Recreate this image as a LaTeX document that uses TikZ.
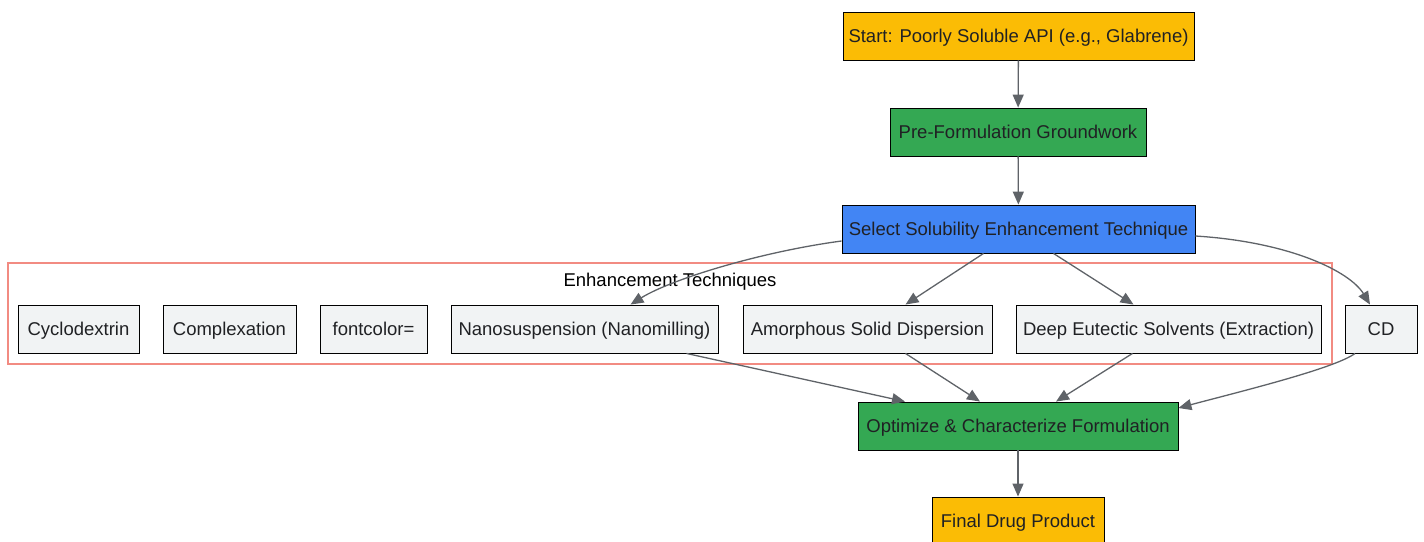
\documentclass[tikz,border=0pt]{standalone}
\usepackage{fontspec}
\setmainfont{Liberation Sans}
\usetikzlibrary{arrows.meta}
\definecolor{gyellow}{HTML}{FBBC05}
\definecolor{ggreen}{HTML}{34A853}
\definecolor{gblue}{HTML}{4285F4}
\definecolor{ggray}{HTML}{F1F3F4}
\definecolor{gred}{HTML}{F28B82}
\definecolor{gtext}{HTML}{202124}
\definecolor{gedge}{HTML}{5F6368}
\tikzset{
    txt/.style={font=\fontsize{18.5}{22}\selectfont, text height=13.5, text depth=0},
    box/.style={txt, draw=black, line width=0.9pt, minimum height=48, inner xsep=2, text=gtext},
    flow/.style={draw=gedge, line width=1.3pt, -{Triangle[length=13pt, width=11pt]}},
}
\begin{document}
\begin{tikzpicture}[x=1pt, y=-1pt]
    \useasboundingbox (0,0) rectangle (1424,541);
    \draw [gred, line width=1.2pt] (8,263) rectangle (1332,364);
    \node [txt] (clabel) at (670,280) {Enhancement Techniques};

    \node [box, fill=gyellow, minimum width=351] (start) at (1018.5,36) {Start: Poorly Soluble API (e.g., Glabrene)};
    \node [box, fill=ggreen, minimum width=256] (pre) at (1018,132) {Pre-Formulation Groundwork};
    \node [box, fill=gblue, minimum width=353] (sel) at (1018.5,229) {Select Solubility Enhancement Technique};

    \node [box, fill=ggray, minimum width=121] (cyclo) at (78.5,329) {Cyclodextrin};
    \node [box, fill=ggray, minimum width=133] (complex) at (229.5,329) {Complexation};
    \node [box, fill=ggray, minimum width=107] (fontc) at (373.5,329) {fontcolor=};
    \node [box, fill=ggray, minimum width=267] (nano) at (584.5,329) {Nanosuspension (Nanomilling)};
    \node [box, fill=ggray, minimum width=249] (amorph) at (867.5,329) {Amorphous Solid Dispersion};
    \node [box, fill=ggray, minimum width=305] (deep) at (1168.5,329) {Deep Eutectic Solvents (Extraction)};
    \node [box, fill=ggray, minimum width=72] (cd) at (1381,329) {CD};

    \node [box, fill=ggreen, minimum width=320] (opt) at (1018,426) {Optimize \& Characterize Formulation};
    \node [box, fill=gyellow, minimum width=172] (final) at (1018,521) {Final Drug Product};

    \draw [flow] (start) -- (pre);
    \draw [flow] (pre) -- (sel);
    \draw [flow] ([yshift=-12pt]sel.west) .. controls +(-82,11) and +(40,-25) .. ([xshift=46pt]nano.north);
    \draw [flow] ([xshift=-35pt]sel.south) -- ([xshift=38pt]amorph.north);
    \draw [flow] ([xshift=35pt]sel.south) -- ([xshift=-35pt]deep.north);
    \draw [flow] ([yshift=-7pt]sel.east) .. controls +(95,6) and +(-20,-33) .. ([xshift=-11pt]cd.north);

    \draw [flow] ([xshift=102pt]nano.south) -- ([xshift=-113pt]opt.north);
    \draw [flow] ([xshift=38pt]amorph.south) -- ([xshift=-38pt]opt.north);
    \draw [flow] ([xshift=-36pt]deep.south) -- ([xshift=38pt]opt.north);
    \draw [flow] ([xshift=-26pt]cd.south) .. controls +(-20,15) and +(60,-16) .. ([yshift=18pt]opt.east);
    \draw [flow] (opt) -- (final);
\end{tikzpicture}
\end{document}
